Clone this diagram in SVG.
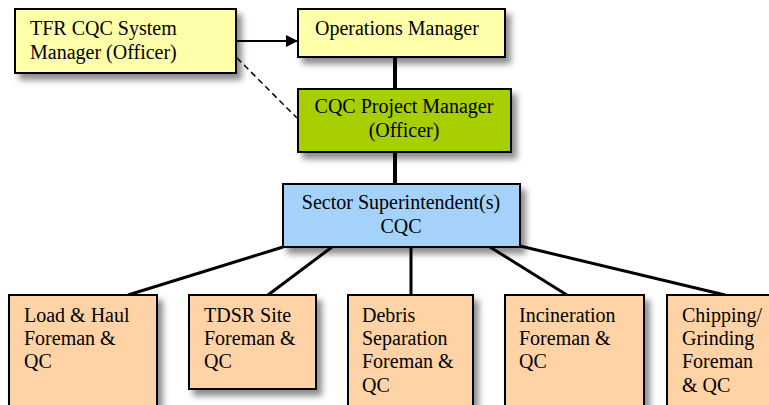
<svg xmlns="http://www.w3.org/2000/svg" width="769" height="405" viewBox="0 0 769 405">
<defs>
<filter id="sh" x="-20%" y="-20%" width="150%" height="160%">
<feDropShadow dx="5" dy="6" stdDeviation="3" flood-color="#000" flood-opacity="0.45"/>
</filter>
<marker id="ah" markerWidth="12" markerHeight="12" refX="11" refY="6" orient="auto" markerUnits="userSpaceOnUse">
<path d="M0,0 L12,6 L0,12 Z" fill="#000"/>
</marker>
<style>
.box{stroke:#000;stroke-width:2;filter:url(#sh)}
.y{fill:#ffffaa}.g{fill:#a6ce00}.b{fill:#a4d2fb}.p{fill:#ffd3a6}
text{font-size:20px;fill:#000}
.c{text-anchor:middle}
.ln{stroke:#000;fill:none}
</style>
</defs>
<rect width="769" height="405" fill="#fff"/>
<g id="connectors">
<line class="ln" x1="236" y1="41" x2="297" y2="41" stroke-width="2" marker-end="url(#ah)"/>
<line class="ln" x1="237" y1="58" x2="297" y2="118" stroke-width="1.5" stroke-dasharray="6,4"/>
<line class="ln" x1="395" y1="57" x2="395" y2="89" stroke-width="4"/>
<line class="ln" x1="395" y1="152" x2="395" y2="184" stroke-width="4"/>
<line class="ln" x1="283" y1="247" x2="128" y2="295" stroke-width="3"/>
<line class="ln" x1="332" y1="247" x2="268" y2="295" stroke-width="3"/>
<line class="ln" x1="411" y1="247" x2="411" y2="295" stroke-width="3"/>
<line class="ln" x1="490" y1="247" x2="567" y2="295" stroke-width="3"/>
<line class="ln" x1="520" y1="246" x2="725" y2="295" stroke-width="3"/>
</g>
<g font-family="'Liberation Serif', 'Times New Roman', 'DejaVu Serif', serif">
<g id="tfr">
<rect class="box y" x="15" y="9" width="221" height="64"/>
<text x="30" y="35">TFR CQC System</text>
<text x="30" y="59">Manager (Officer)</text>
</g>
<g id="ops">
<rect class="box y" x="298" y="9" width="207" height="48"/>
<text x="315" y="35">Operations Manager</text>
</g>
<g id="cqcpm">
<rect class="box g" x="298" y="89" width="213" height="63"/>
<text class="c" x="404" y="113">CQC Project Manager</text>
<text class="c" x="404" y="137">(Officer)</text>
</g>
<g id="sector">
<rect class="box b" x="283" y="184" width="237" height="63"/>
<text class="c" x="401" y="209">Sector Superintendent(s)</text>
<text class="c" x="401" y="233">CQC</text>
</g>
<g id="loadhaul">
<rect class="box p" x="9" y="295" width="148" height="120"/>
<text x="24" y="322">Load &amp; Haul</text>
<text x="24" y="345">Foreman &amp;</text>
<text x="24" y="368">QC</text>
</g>
<g id="tdsr">
<rect class="box p" x="189" y="295" width="127" height="94"/>
<text x="204" y="322">TDSR Site</text>
<text x="204" y="345">Foreman &amp;</text>
<text x="204" y="368">QC</text>
</g>
<g id="debris">
<rect class="box p" x="348" y="295" width="125" height="120"/>
<text x="362" y="322">Debris</text>
<text x="362" y="345">Separation</text>
<text x="362" y="368">Foreman &amp;</text>
<text x="362" y="392">QC</text>
</g>
<g id="incineration">
<rect class="box p" x="505" y="295" width="139" height="120"/>
<text x="519" y="322">Incineration</text>
<text x="519" y="345">Foreman &amp;</text>
<text x="519" y="368">QC</text>
</g>
<g id="chipping">
<rect class="box p" x="667" y="295" width="110" height="120"/>
<text x="682" y="322">Chipping/</text>
<text x="682" y="345">Grinding</text>
<text x="682" y="368">Foreman</text>
<text x="682" y="392">&amp; QC</text>
</g>
</g>
</svg>
